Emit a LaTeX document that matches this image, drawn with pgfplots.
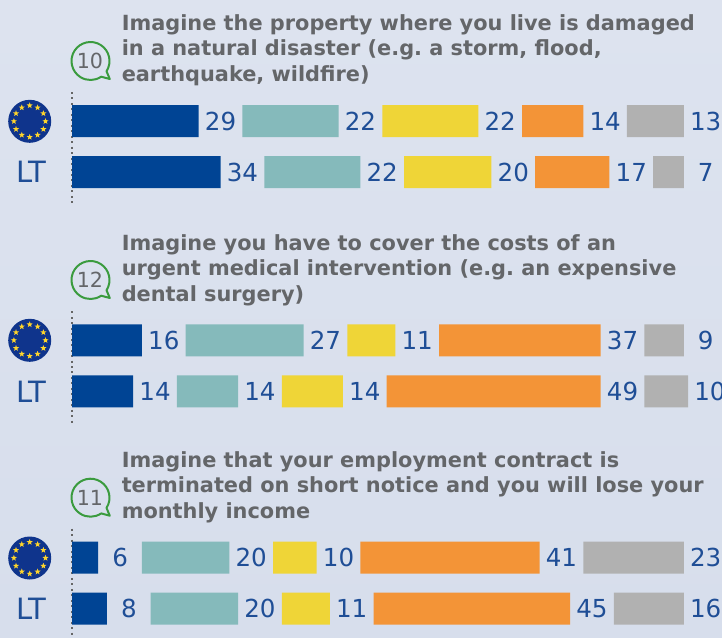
\documentclass[border=0pt]{standalone}
\usepackage{fontspec}
\usepackage{pgfplots}
\usepackage{pgfplotstable}
\pgfplotsset{compat=1.18}
\usetikzlibrary{shapes.geometric}
\setmainfont{DejaVu Sans}
\newfontfamily\condfont[FakeStretch=1.1]{DejaVu Sans Condensed}
\newfontfamily\boldfont{DejaVu Sans Bold}
\definecolor{bgtop}{HTML}{DDE3EF}
\definecolor{bgbot}{HTML}{D7DEEC}
\definecolor{cA}{HTML}{004494}
\definecolor{cB}{HTML}{85BABB}
\definecolor{cC}{HTML}{EFD537}
\definecolor{cD}{HTML}{F39437}
\definecolor{cE}{HTML}{B1B1B1}
\definecolor{txtblue}{HTML}{1F4E96}
\definecolor{titlegrey}{HTML}{646669}
\definecolor{bubblegreen}{HTML}{3A9B3E}
\definecolor{flagblue}{HTML}{0F348C}
\definecolor{flagyellow}{HTML}{FFD52B}

\pgfplotstableread{
y a b c d e gap
1 29 22 22 14 13 10
2 34 22 20 17 7 10
}\tabOne
\pgfplotstableread{
y a b c d e gap
1 16 27 11 37 9 10
2 14 14 14 49 10 10
}\tabTwo
\pgfplotstableread{
y a b c d e gap
1 6 20 10 41 23 10
2 8 20 11 45 16 10
}\tabThree

\newcommand\valfont{\fontsize{18.6pt}{20pt}\condfont}
\newcommand\labfont{\fontsize{22pt}{24pt}\condfont}
\newcommand\titlefont{\fontsize{15.65pt}{18pt}\boldfont}
\frenchspacing

\pgfplotsset{
  panel/.style={
    scale only axis, width=487.5pt, height=84pt, anchor=north west,
    xmin=0, xmax=148.75,
    ymin=0.4314, ymax=2.6275, y dir=reverse,
    xbar stacked, bar width=24pt,
    axis x line=none, axis y line*=left,
    y axis line style={draw=black!60, line width=0.8pt, dash pattern=on 1.5pt off 2.6pt, -},
    major tick length=0pt,
    ytick={1,2}, yticklabels={,LT},
    yticklabel style={font=\labfont, text=txtblue, inner sep=0pt, anchor=east, xshift=-19pt},
    clip=false,
  },
  gaplabel/.style={draw=none, fill=none, point meta=explicit symbolic,
    nodes near coords,
    every node near coord/.append style={font=\valfont, text=txtblue, inner sep=0pt}},
  seg/.style={draw=none, fill=#1},
}
\newcommand\panelplots[1]{%
  \addplot[seg=cA] table[x=a,y=y]{#1};
  \addplot[gaplabel] table[x=gap,y=y,meta=a]{#1};
  \addplot[seg=cB] table[x=b,y=y]{#1};
  \addplot[gaplabel] table[x=gap,y=y,meta=b]{#1};
  \addplot[seg=cC] table[x=c,y=y]{#1};
  \addplot[gaplabel] table[x=gap,y=y,meta=c]{#1};
  \addplot[seg=cD] table[x=d,y=y]{#1};
  \addplot[gaplabel] table[x=gap,y=y,meta=d]{#1};
  \addplot[seg=cE] table[x=e,y=y]{#1};
  \addplot[gaplabel] table[x=gap,y=y,meta=e]{#1};
}
\newcommand\euflag[1]{%
  \begin{scope}[shift={(29.7,-#1)}]
    \fill[flagblue] (0,0) circle (21.5);
    \foreach \a in {0,30,...,330}
      \node[star, star points=5, star point ratio=2.4, fill=flagyellow, inner sep=0pt, minimum size=4.8pt] at (\a:15.8) {};
  \end{scope}}
\newcommand\bubble[2]{%
  \begin{scope}[shift={(90.5,-#1)}]
    \draw[bubblegreen, line width=1.5pt, line join=round]
      (-32.6:19) arc (-32.6:304.3:19) -- (19.3,-18) -- cycle;
    \node[font=\fontsize{15.6pt}{17pt}\condfont, text=titlegrey, inner sep=0pt] at (-0.5,0) {#2};
  \end{scope}}
\newcommand\tline[2]{\node[anchor=base west, inner sep=0pt, font=\titlefont, text=titlegrey] at (121.5,-#1) {#2};}

\begin{document}
\begin{tikzpicture}
\begin{scope}[x=0.75pt,y=0.75pt]
\clip (0,0) rectangle (722,-637);
\fill[top color=bgtop, bottom color=bgbot, draw=none] (0,0) rectangle (722,-637);

\tline{30}{Imagine the property where you live is damaged}
\tline{55.7}{in a natural disaster (e.g. a storm, flood,}
\tline{81}{earthquake, wildfire)}
\tline{250}{Imagine you have to cover the costs of an}
\tline{275.2}{urgent medical intervention (e.g. an expensive}
\tline{301}{dental surgery)}
\tline{467}{Imagine that your employment contract is}
\tline{492.5}{terminated on short notice and you will lose your}
\tline{518}{monthly income}
\bubble{61}{10}
\bubble{280}{12}
\bubble{497.7}{11}
\euflag{121.3}
\euflag{340.3}
\euflag{558}

\begin{axis}[panel, at={(54pt,-69pt)}]
  \panelplots{\tabOne}
\end{axis}
\begin{axis}[panel, at={(54pt,-233.5pt)}]
  \panelplots{\tabTwo}
\end{axis}
\begin{axis}[panel, at={(54pt,-396.5pt)}]
  \panelplots{\tabThree}
\end{axis}
\end{scope}
\pgfresetboundingbox
\path[use as bounding box] (0,0) rectangle (541.5pt,-477.75pt);
\end{tikzpicture}
\end{document}
